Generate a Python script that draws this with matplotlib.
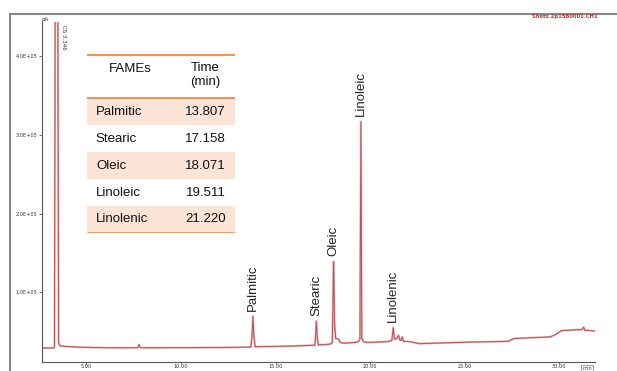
"""
GC-FID chromatogram of fatty acid methyl esters with retention time table
"""

import matplotlib
matplotlib.use('Agg')
import matplotlib.pyplot as plt
from matplotlib.lines import Line2D
from matplotlib.patches import Rectangle

# Chromatogram trace (time in min, signal in pA)
trace_time = [2.66, 3.28, 3.32, 3.36, 3.45, 3.50, 3.54, 3.60, 3.80, 4.20, 4.60, 5.00, 6.00, 7.00,
              7.72, 7.79, 7.86, 9.00, 10.50, 12.00, 13.00, 13.70, 13.76, 13.807, 13.85, 13.92,
              15.00, 16.00, 16.50, 17.08, 17.12, 17.158, 17.20, 17.26, 17.60, 17.90, 18.00,
              18.071, 18.12, 18.18, 18.35, 18.42, 18.60, 18.90, 19.20, 19.38, 19.46, 19.511,
              19.56, 19.64, 19.90, 20.40, 20.90, 21.15, 21.22, 21.29, 21.42, 21.50, 21.58,
              21.65, 21.70, 21.76, 22.10, 22.60, 24.00, 25.30, 26.50, 27.30, 27.60, 28.50,
              29.50, 29.80, 30.10, 30.80, 31.20, 31.28, 31.36, 31.50, 31.87]
trace_signal = [29000, 29000, 30000, 460000, 480000, 460000, 36000, 32000, 31000, 30500, 30000,
                29800, 29300, 29200,
                29300, 33500, 29300, 29300, 29400, 29600, 29800, 30200, 45000, 69500, 46000, 30500,
                31000, 31500, 32000, 32500, 45000, 63000, 44000, 33000, 33200, 34000, 36000,
                139000, 60000, 41000, 40000, 36000, 35000, 35500, 36000, 37000, 40000, 317000,
                42000, 37000, 36000, 36500, 37000, 38500, 55000, 40000, 41000, 45000, 38500,
                39000, 43000, 37500, 37000, 34500, 35500, 36500, 37000, 37500, 41000, 42000,
                43000, 46000, 51000, 52000, 52500, 55500, 51000, 51500, 50500]

fames = ['Palmitic', 'Stearic', 'Oleic', 'Linoleic', 'Linolenic']
ret_times = ['13.807', '17.158', '18.071', '19.511', '21.220']
peak_time = [13.807, 17.158, 18.071, 19.511, 21.220]
peak_height = [69500, 63000, 139000, 317000, 55000]

x_ticks = [5, 10, 15, 20, 25, 30]
x_tick_labels = ['5.00', '10.00', '15.00', '20.00', '25.00', '30.00']
y_ticks = [100000, 200000, 300000, 400000]
y_tick_labels = ['1.0E+05', '2.0E+05', '3.0E+05', '4.0E+05']

label_font = ['Liberation Sans', 'DejaVu Sans']

fig = plt.figure(figsize=(6.17, 3.71), dpi=100)
ax = fig.add_axes([0.068, 0.024, 0.896, 0.917])

# Trace: pale halo plus darker core
ax.plot(trace_time, trace_signal, color='#ebb4b6', linewidth=1.5)
ax.plot(trace_time, trace_signal, color='#b9505a', linewidth=0.7)

ax.set_xlim(2.66, 31.87)
ax.set_ylim(11000, 444000)

for name, t, h in zip(fames, peak_time, peak_height):
    ax.annotate(name, xy=(t, h), xytext=(0, 4), textcoords='offset points',
                rotation=90, ha='center', va='bottom', fontsize=9.5,
                family=label_font, color='#222222')

ax.annotate('CS 3.346', xy=(3.45, 444000), xytext=(3, -2), textcoords='offset points',
            rotation=270, ha='left', va='top', fontsize=4, color='#333333')

# Style
ax.spines['top'].set_visible(False)
ax.spines['right'].set_visible(False)
for side in ['left', 'bottom']:
    ax.spines[side].set_color('#555555')
    ax.spines[side].set_linewidth(0.8)

ax.set_xticks(x_ticks)
ax.set_xticklabels(x_tick_labels)
ax.set_yticks(y_ticks)
ax.set_yticklabels(y_tick_labels)
ax.tick_params(axis='both', labelsize=3.6, width=0.6, color='#555555',
               labelcolor='#333333')
ax.tick_params(axis='y', length=2.5, pad=1)
ax.tick_params(axis='x', length=1.2, pad=0.5)

ax.text(0.0, 1.0, 'pA', transform=ax.transAxes, fontsize=4, ha='left', va='bottom',
        color='#333333')
ax.text(0.986, -0.012, 'min', transform=ax.transAxes, fontsize=3.6, ha='center', va='top',
        color='#333333', bbox=dict(boxstyle='square,pad=0.15', fc='white', ec='#777777', lw=0.5))

fig.text(0.968, 0.955, 'Shots 2p1560001.CH1', fontsize=3.8, ha='right', va='center',
         color='#b03030', weight='bold')

# Outer frame of the screenshot
fig.add_artist(Line2D([0.016, 1.0], [0.962, 0.962], color='#888888', linewidth=1.5))
fig.add_artist(Line2D([0.016, 0.016], [0.0, 0.962], color='#888888', linewidth=1.5))

# Retention time table
tab = fig.add_axes([0.141, 0.372, 0.240, 0.485])
tab.set_xlim(0, 1)
tab.set_ylim(180, 0)
tab.axis('off')

orange = '#f0955a'
shade = '#fce4d6'
row_h = 27
top_row = 45
for i, (name, rt) in enumerate(zip(fames, ret_times)):
    y0 = top_row + i * row_h
    if i % 2 == 0:
        tab.add_patch(Rectangle((0, y0), 1, row_h, facecolor=shade, edgecolor='none'))
    tab.text(0.06, y0 + row_h / 2, name, ha='left', va='center', fontsize=9.5,
             family=label_font, color='#111111')
    tab.text(0.80, y0 + row_h / 2, rt, ha='center', va='center', fontsize=9.5,
             family=label_font, color='#111111')

tab.text(0.29, 16, 'FAMEs', ha='center', va='center', fontsize=9.5, family=label_font,
         color='#111111')
tab.text(0.80, 22, 'Time\n(min)', ha='center', va='center', fontsize=9.5, family=label_font,
         color='#111111', linespacing=1.15)

tab.plot([0, 1], [2, 2], color=orange, linewidth=1.5, solid_capstyle='butt')
tab.plot([0, 1], [top_row, top_row], color=orange, linewidth=1.5, solid_capstyle='butt')
tab.plot([0, 1], [180, 180], color=orange, linewidth=2.0, solid_capstyle='butt')

fig.savefig('out.png', dpi=100)
